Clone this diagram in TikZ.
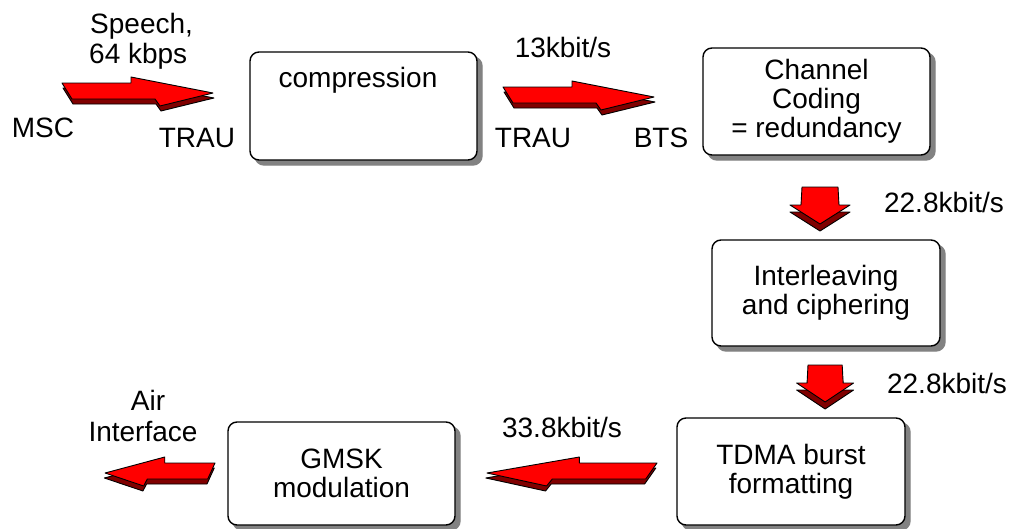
\documentclass[tikz,border=0pt]{standalone}
\usepackage{fontspec}
\setmainfont{Liberation Sans}
\definecolor{arrred}{RGB}{255,0,0}
\definecolor{arrdark}{RGB}{128,0,0}
\definecolor{shadowgray}{RGB}{130,130,130}
\tikzset{
  box/.style={draw=black, line width=1.4pt, rounded corners=9pt, fill=white,
    minimum width=227pt, minimum height=107pt, align=center, inner sep=0pt,
    font=\fontsize{28}{29}\selectfont,
    preaction={fill=shadowgray, draw=shadowgray, transform canvas={shift={(5pt,-5pt)}}}},
  lab/.style={font=\fontsize{28}{30}\selectfont, inner sep=0pt, anchor=base},
  arrface/.style={fill=arrred, draw=black, line width=0.9pt, line join=round},
  arrside/.style={fill=arrdark, draw=black, line width=0.9pt, line join=round},
  pics/rarrow/.style={code={
    \filldraw[arrside, shift={(1,5)}] (0,0)--(69,0)--(69,-6)--(151,10)--(98,23)--(93,16)--(10,16)--cycle;
    \filldraw[arrface] (0,0)--(69,0)--(69,-6)--(151,10)--(98,23)--(93,16)--(10,16)--cycle;
  }},
  pics/darrow/.style={code={
    \filldraw[arrside, shift={(0,7)}] (0,0)--(36,0)--(37,18)--(48,18)--(18,37)--(-12,18)--(-1,18)--cycle;
    \filldraw[arrface] (0,0)--(36,0)--(37,18)--(48,18)--(18,37)--(-12,18)--(-1,18)--cycle;
  }}
}
\begin{document}
\begin{tikzpicture}[x=1pt,y=-1pt]
\useasboundingbox (0,0) rectangle (1013,528);
% boxes
\node[box, minimum height=108pt] (comp) at (363.5,106) {};
\node[lab] (comptxt) at (358,87) {compression};
\node[box] (chan) at (816.5,101.5) {Channel\\Coding\\= redundancy};
\node[box, minimum width=228pt, minimum height=106pt] (inter) at (826,293) {Interleaving\\and ciphering};
\node[box, minimum width=228pt] (tdma) at (791,471.5) {TDMA burst\\formatting};
\node[box, minimum height=103pt] (gmsk) at (341.5,473.5) {GMSK\\modulation};
% block arrows
\pic at (62,83) {rarrow};
\pic at (503,87) {rarrow};
\pic[xscale=-1.126] at (657,463) {rarrow};
\pic[xscale=-0.728] at (215,463) {rarrow};
\pic at (802,187) {darrow};
\pic[xscale=0.95] at (808,365) {darrow};
% labels
\node[lab, anchor=base west] (speech) at (90,33) {Speech,};
\node[lab, anchor=base west] (kbps) at (89,63) {64 kbps};
\node[lab] (msc) at (43,137) {MSC};
\node[lab] (trau1) at (197,147) {TRAU};
\node[lab] (r13) at (563,57) {13kbit/s};
\node[lab] (trau2) at (533,147) {TRAU};
\node[lab] (bts) at (661,147) {BTS};
\node[lab] (r228a) at (944,212) {22.8kbit/s};
\node[lab] (r228b) at (947,393) {22.8kbit/s};
\node[lab] (air) at (148,410) {Air};
\node[lab] (iface) at (143,441) {Interface};
\node[lab] (r338) at (562,437) {33.8kbit/s};
\end{tikzpicture}
\end{document}
